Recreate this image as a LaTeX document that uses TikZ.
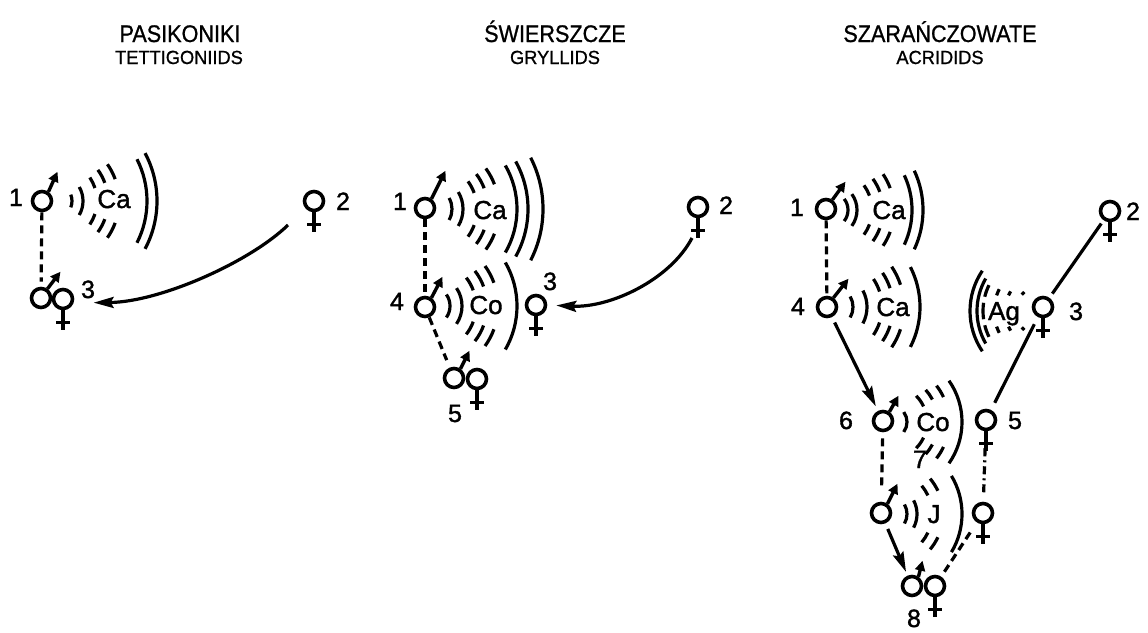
\documentclass[tikz,border=0pt]{standalone}
\usepackage{fontspec}
\setmainfont{Liberation Sans}
\newfontfamily\labelsans[FakeBold=1.4]{Liberation Sans}
\newfontfamily\narrowsans[FakeStretch=0.9,FakeBold=0.9]{Liberation Sans}
\newfontfamily\subsans[FakeStretch=0.96,FakeBold=0.9]{Liberation Sans}
\usetikzlibrary{arrows.meta,calc}

\tikzset{
  sym/.style={circle,draw,line width=3.6pt,minimum size=19pt,inner sep=0pt},
  bar/.style={line width=3.4pt},
  marrow/.style={line width=3.4pt,-{Triangle[length=10pt,width=10pt]}},
  wave/.style={line width=3.2pt},
  link/.style={line width=3.2pt},
  dlink/.style={line width=3.2pt,dash pattern=on 8pt off 5pt},
  ddlink/.style={line width=3.2pt,dash pattern=on 8pt off 4pt on 2pt off 4pt},
  tip/.style={-{Stealth[length=20pt,width=11pt,inset=3pt]}},
  lbl/.style={font=\labelsans\fontsize{25}{25}\selectfont,inner sep=0pt,anchor=base},
  song/.style={font=\labelsans\fontsize{26}{26}\selectfont,inner sep=0pt,anchor=base},
  ttl/.style={font=\narrowsans\fontsize{24}{24}\selectfont,inner sep=0pt,anchor=base},
  sub/.style={font=\subsans\fontsize{19}{19}\selectfont,inner sep=0pt,anchor=base},
}
% female mark: stem and cross bar under a circle node
\newcommand\venus[1]{\draw[bar] (#1.south) -- ++(0,-20) ($(#1.south)+(-7,-12)$) -- ++(14,0);}
% male mark: arrow out of a circle node
\newcommand\mars[3]{\draw[marrow] (#1.55) -- ++(#2,#3);}
% arc of a song: centre, radius, start angle, end angle
\newcommand\sarc[5][]{\draw[wave,#1] #2 ++(#4:#3) arc[start angle=#4,end angle=#5,radius=#3];}
% broken arc: short strokes above and below the song name
\newcommand\dpair[4]{\sarc{#1}{#2}{#3}{#4}\sarc{#1}{#2}{-#4}{-#3}}
\newcommand\lpair[4]{\sarc{#1}{#2}{#3}{#4}\sarc{#1}{#2}{360-#4}{360-#3}}

\begin{document}
\begin{tikzpicture}[x=1pt,y=1pt]
\useasboundingbox (0,0) rectangle (1148,-632);
\fill[white] (0,0) rectangle (1148,-632);

% ---------- titles ----------
\node[ttl] (t1a) at (180,-42) {PASIKONIKI};
\node[sub] (t1b) at (179,-64) {TETTIGONIIDS};
\node[ttl] (t2a) at (555,-42) {ŚWIERSZCZE};
\node[sub] (t2b) at (555,-64) {GRYLLIDS};
\node[ttl] (t3a) at (940,-42) {SZARAŃCZOWATE};
\node[sub] (t3b) at (940,-64) {ACRIDIDS};

% ---------- tettigoniids ----------
\node[sym] (p1m1) at (42,-201) {};
\node[sym] (p1f2) at (314,-201) {};
\node[sym] (p1m3) at (41,-298) {};
\node[sym] (p1f3) at (63,-299) {};
\mars{p1m1}{9}{20}
\mars{p1m3}{13}{17}
\venus{p1f2}
\venus{p1f3}
\node[lbl] (p1n1) at (16,-206) {1};
\node[lbl] (p1n2) at (343,-210) {2};
\node[lbl] (p1n3) at (88,-298) {3};
\node[song] (p1ca) at (114,-208) {Ca};
\sarc{(55,-201)}{17}{-22}{22}
\sarc{(55,-201)}{28}{-30}{30}
\dpair{(55,-201)}{42}{18}{34}
\dpair{(55,-201)}{53}{20}{36}
\dpair{(55,-201)}{64}{20}{35}
\sarc{(55,-201)}{92}{-27}{27}
\sarc{(55,-201)}{102}{-28}{28}
\draw[dlink,shorten >=5pt] (p1m1) -- (p1m3);
\coordinate (p1s) at (288,-225);
\draw[link,tip,shorten >=20pt] (p1s) .. controls (250,-262) and (160,-302) .. (p1f3.-20);

% ---------- gryllids ----------
\node[sym] (p2m1) at (425,-208) {};
\node[sym] (p2f2) at (698,-207) {};
\node[sym] (p2m4) at (425,-307) {};
\node[sym] (p2f3) at (536,-305) {};
\node[sym] (p2m5) at (454,-378) {};
\node[sym] (p2f5) at (477,-379) {};
\mars{p2m1}{14}{28}
\mars{p2m4}{11}{21}
\mars{p2m5}{9}{18}
\venus{p2f2}
\venus{p2f3}
\venus{p2f5}
\node[lbl] (p2n1) at (400,-210) {1};
\node[lbl] (p2n2) at (726,-214) {2};
\node[lbl] (p2n3) at (550,-290) {3};
\node[lbl] (p2n4) at (397,-310) {4};
\node[lbl] (p2n5) at (455,-422) {5};
\node[song] (p2ca) at (490,-219) {Ca};
\node[song] (p2co) at (486,-314) {Co};
\sarc{(430,-209)}{22}{-30}{30}
\sarc{(430,-209)}{33}{-31}{31}
\dpair{(430,-209)}{47}{20}{36}
\dpair{(430,-209)}{58}{21}{37}
\dpair{(430,-209)}{69}{21}{36}
\sarc{(430,-209)}{87}{-30}{30}
\sarc{(430,-209)}{98}{-29}{29}
\sarc{(430,-209)}{113}{-27}{27}
\sarc{(430,-306)}{20}{-35}{35}
\sarc{(430,-306)}{32}{-34}{34}
\dpair{(430,-306)}{46}{20}{38}
\dpair{(430,-306)}{57}{20}{38}
\dpair{(430,-306)}{68}{20}{36}
\sarc{(430,-306)}{87}{-30}{30}
\draw[dlink,shorten >=2pt] (p2m1) -- (p2m4);
\draw[dlink,shorten >=8pt] (p2m4) -- (p2m5);
\coordinate (p2s) at (692,-238);
\draw[link,tip,shorten >=9pt] (p2s) .. controls (670,-280) and (610,-308) .. (p2f3.east);

% ---------- acridids ----------
\node[sym] (p3m1) at (826,-209) {};
\node[sym] (p3f2) at (1110,-211) {};
\node[sym] (p3m4) at (827,-307) {};
\node[sym] (p3f3) at (1043,-307) {};
\node[sym] (p3m6) at (883,-421) {};
\node[sym] (p3f5) at (986,-420) {};
\node[sym] (p3mj) at (881,-513) {};
\node[sym] (p3fj) at (983,-513) {};
\node[sym] (p3m8) at (912,-586) {};
\node[sym] (p3f8) at (935,-586) {};
\mars{p3m1}{13}{18}
\mars{p3m4}{15}{19}
\mars{p3m6}{9}{16}
\mars{p3mj}{10}{20}
\mars{p3m8}{4}{16}
\venus{p3f2}
\venus{p3f3}
\venus{p3f5}
\venus{p3fj}
\venus{p3f8}
\node[lbl] (p3n1) at (797,-216) {1};
\node[lbl] (p3n2) at (1133,-220) {2};
\node[lbl] (p3n3) at (1076,-320) {3};
\node[lbl] (p3n4) at (798,-315) {4};
\node[lbl] (p3n5) at (1015,-429) {5};
\node[lbl] (p3n6) at (846,-429) {6};
\node[lbl] (p3n7) at (920,-468) {7};
\node[lbl] (p3n8) at (914,-627) {8};
\node[song] (p3ca) at (889,-219) {Ca};
\node[song] (p3cb) at (893,-316) {Ca};
\node[song] (p3ag) at (1004,-320) {Ag};
\node[song] (p3co) at (933,-431) {Co};
\node[song] (p3j) at (934,-523) {J};
% songs of the males
\sarc{(830,-210)}{18}{-38}{38}
\sarc{(830,-210)}{27}{-36}{36}
\dpair{(830,-210)}{42}{20}{36}
\dpair{(830,-210)}{53}{20}{36}
\dpair{(830,-210)}{64}{20}{34}
\sarc{(830,-210)}{82}{-25}{25}
\sarc{(830,-210)}{93}{-25}{25}
\sarc{(832,-307)}{21}{-30}{30}
\sarc{(832,-307)}{35}{-28}{28}
\dpair{(832,-307)}{50}{18}{34}
\dpair{(832,-307)}{61}{18}{34}
\dpair{(832,-307)}{72}{18}{34}
\sarc{(832,-307)}{88}{-27}{27}
\sarc{(890,-422)}{17}{-36}{36}
\dpair{(890,-422)}{37}{25}{45}
\dpair{(890,-422)}{48}{28}{42}
\dpair{(890,-422)}{59}{25}{38}
\sarc{(890,-422)}{72}{-35}{35}
\sarc{(888,-514)}{19}{-30}{30}
\sarc{(888,-514)}{29}{-28}{28}
\dpair{(888,-514)}{44}{25}{40}
\dpair{(888,-514)}{55}{25}{40}
\sarc{(888,-514)}{74}{-31}{31}
% answer of the female
\sarc{(1042,-311)}{59}{172}{188}
\lpair{(1042,-311)}{59}{154}{166}
\lpair{(1042,-311)}{26}{133}{141}
\lpair{(1042,-311)}{37}{148}{155}
\lpair{(1042,-311)}{48}{153}{161}
\sarc{(1042,-311)}{65}{150}{210}
\sarc{(1042,-311)}{72}{146}{214}
% connections
\draw[dlink,shorten >=2pt] (p3m1) -- (p3m4);
\draw[link,tip,shorten <=6pt,shorten >=5pt] (p3m4) -- (p3m6);
\draw[dlink,shorten <=6pt,shorten >=15pt] (p3m6) -- (p3mj);
\draw[link,tip,shorten <=6pt,shorten >=4pt] (p3mj) -- (p3m8);
\draw[link,shorten <=4pt,shorten >=5pt] (p3f2) -- (p3f3);
\draw[link,shorten <=8pt,shorten >=8pt] (p3f3) -- (p3f5);
\draw[ddlink,shorten <=17pt,shorten >=6pt] (p3f5) -- (p3fj);
\draw[dlink,shorten <=12pt,shorten >=3pt] (p3fj) -- (p3f8);
\end{tikzpicture}
\end{document}
